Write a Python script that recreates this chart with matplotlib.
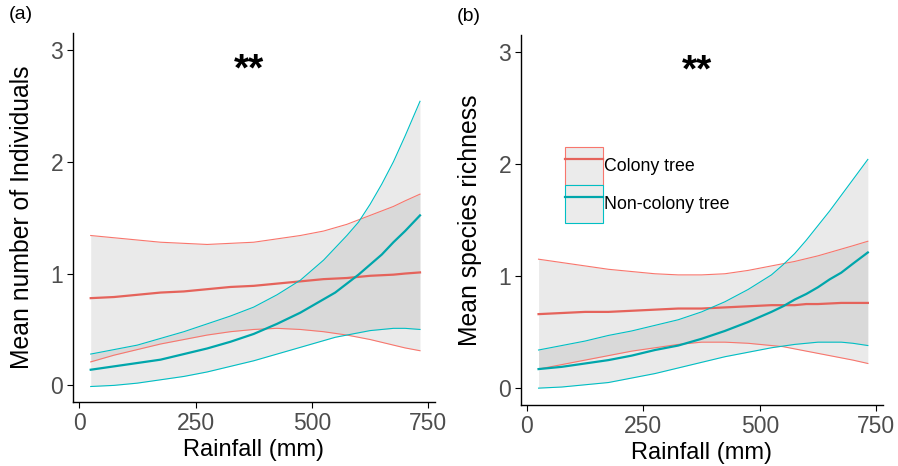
import numpy as np
import matplotlib
matplotlib.use("Agg")
import matplotlib.pyplot as plt
from matplotlib.patches import Patch
from matplotlib.lines import Line2D

plt.rcParams['font.family'] = ['Liberation Sans', 'DejaVu Sans']

rain = [25, 75, 125, 175, 225, 275, 325, 375, 425, 475, 525, 550, 575, 600, 625, 650, 675, 700, 732]

# (a) mean number of individuals
a_col_mean = [0.78, 0.79, 0.81, 0.83, 0.84, 0.86, 0.88, 0.89, 0.91, 0.93, 0.95, 0.955, 0.96, 0.97, 0.98, 0.985, 0.99, 1.00, 1.01]
a_col_hi = [1.34, 1.32, 1.30, 1.28, 1.27, 1.26, 1.27, 1.28, 1.31, 1.34, 1.38, 1.41, 1.44, 1.48, 1.52, 1.56, 1.60, 1.65, 1.71]
a_col_lo = [0.21, 0.27, 0.32, 0.37, 0.41, 0.45, 0.48, 0.50, 0.51, 0.50, 0.48, 0.465, 0.45, 0.43, 0.41, 0.385, 0.36, 0.335, 0.31]
a_non_mean = [0.14, 0.17, 0.20, 0.23, 0.28, 0.33, 0.39, 0.46, 0.55, 0.65, 0.77, 0.83, 0.91, 0.99, 1.08, 1.17, 1.28, 1.38, 1.52]
a_non_hi = [0.28, 0.32, 0.36, 0.42, 0.48, 0.55, 0.62, 0.70, 0.81, 0.94, 1.12, 1.23, 1.34, 1.46, 1.62, 1.80, 2.00, 2.23, 2.54]
a_non_lo = [-0.01, 0.00, 0.02, 0.05, 0.08, 0.12, 0.17, 0.22, 0.28, 0.34, 0.40, 0.43, 0.45, 0.47, 0.49, 0.50, 0.51, 0.51, 0.50]

# (b) mean species richness
b_col_mean = [0.66, 0.67, 0.68, 0.68, 0.69, 0.70, 0.71, 0.71, 0.72, 0.73, 0.74, 0.74, 0.74, 0.75, 0.75, 0.755, 0.76, 0.76, 0.76]
b_col_hi = [1.15, 1.12, 1.09, 1.06, 1.04, 1.02, 1.01, 1.01, 1.02, 1.05, 1.09, 1.11, 1.13, 1.155, 1.18, 1.21, 1.24, 1.27, 1.31]
b_col_lo = [0.17, 0.21, 0.25, 0.29, 0.33, 0.36, 0.39, 0.41, 0.41, 0.40, 0.38, 0.37, 0.35, 0.33, 0.31, 0.29, 0.27, 0.25, 0.22]
b_non_mean = [0.17, 0.19, 0.22, 0.25, 0.29, 0.34, 0.38, 0.44, 0.51, 0.59, 0.68, 0.73, 0.79, 0.84, 0.90, 0.97, 1.03, 1.11, 1.21]
b_non_hi = [0.34, 0.38, 0.42, 0.47, 0.51, 0.56, 0.61, 0.68, 0.77, 0.88, 1.01, 1.10, 1.20, 1.32, 1.45, 1.58, 1.72, 1.86, 2.04]
b_non_lo = [0.00, 0.01, 0.03, 0.05, 0.09, 0.13, 0.18, 0.23, 0.28, 0.32, 0.36, 0.375, 0.39, 0.40, 0.41, 0.41, 0.41, 0.40, 0.38]

x_ticks = [0, 250, 500, 750]
y_ticks = [0, 1, 2, 3]

red = '#F8766D'
red_dark = '#E5635B'
teal = '#00BFC4'
teal_dark = '#00A6AB'

fig = plt.figure(figsize=(8.98, 4.66), dpi=100)
ax_a = fig.add_axes([0.0813, 0.137, 0.403, 0.792])
ax_b = fig.add_axes([0.580, 0.131, 0.403, 0.794])


def draw(ax, col, non, ylabel, tag):
    for (mean, lo, hi), c, cd in [(col, red, red_dark), (non, teal, teal_dark)]:
        ax.fill_between(rain, lo, hi, color='#999999', alpha=0.2, lw=0)
        ax.plot(rain, hi, color=c, lw=0.8)
        ax.plot(rain, lo, color=c, lw=0.8)
        ax.plot(rain, mean, color=cd, lw=1.6)
    ax.set_xlim(-13, 764)
    ax.set_ylim(-0.15, 3.15)
    ax.set_xticks(x_ticks)
    ax.set_yticks(y_ticks)
    ax.tick_params(labelsize=16.5, colors='black', labelcolor='#4D4D4D', length=4, width=0.8, pad=3)
    for s in ['top', 'right']:
        ax.spines[s].set_visible(False)
    for s in ['left', 'bottom']:
        ax.spines[s].set_linewidth(1.0)
    ax.set_xlabel('Rainfall (mm)', fontsize=17, labelpad=3)
    ax.set_ylabel(ylabel, fontsize=17.8, labelpad=12)
    ax.text(366, 2.82, '**', fontsize=28, fontweight='bold', ha='center', va='center')
    ax.text(-0.177, 1.05, tag, transform=ax.transAxes, fontsize=14, ha='left', va='center')


draw(ax_a, (a_col_mean, a_col_lo, a_col_hi), (a_non_mean, a_non_lo, a_non_hi),
     'Mean number of Individuals', '(a)')
draw(ax_b, (b_col_mean, b_col_lo, b_col_hi), (b_non_mean, b_non_lo, b_non_hi),
     'Mean species richness', '(b)')

handles = [
    (Patch(facecolor='#EBEBEB', edgecolor=red, lw=0.8), Line2D([], [], color=red_dark, lw=1.6)),
    (Patch(facecolor='#EBEBEB', edgecolor=teal, lw=0.8), Line2D([], [], color=teal_dark, lw=1.6)),
]
ax_b.legend(handles, ['Colony tree', 'Non-colony tree'], loc='upper left',
            bbox_to_anchor=(0.1215, 0.697), frameon=False, fontsize=12.8,
            handlelength=2.14, handleheight=2.92, labelspacing=0.0,
            handletextpad=0.05, borderpad=0, borderaxespad=0)

fig.savefig('out.png', dpi=100)
